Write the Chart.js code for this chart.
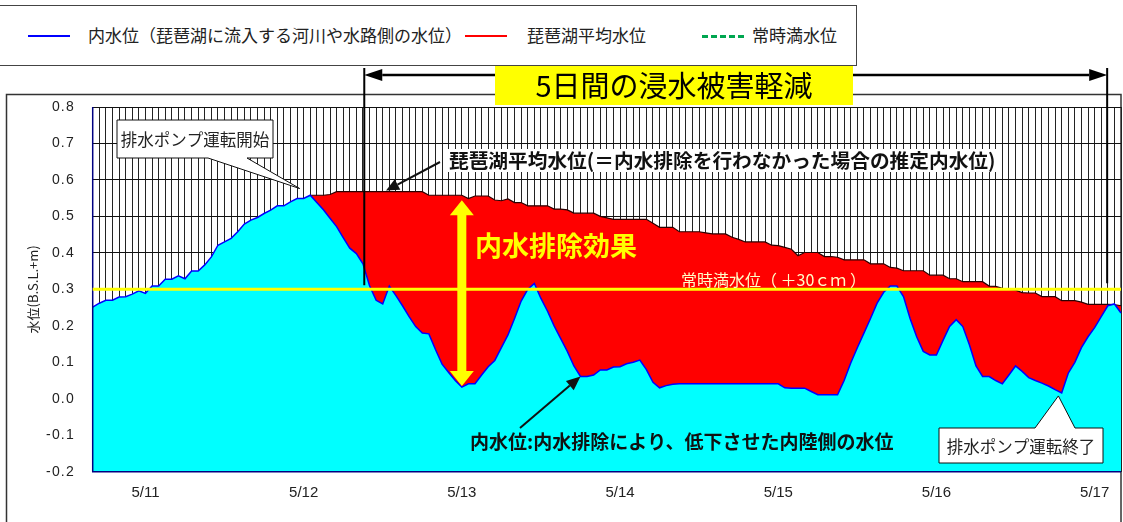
<!DOCTYPE html>
<html lang="ja">
<head>
<meta charset="utf-8">
<script src="https://cdn.jsdelivr.net/npm/chart.js@4.4.0/dist/chart.umd.min.js"></script>
<style>
  html, body { margin: 0; padding: 0; background: #fff; }
  #wrap { position: relative; width: 1123px; height: 522px; overflow: hidden; }
  #chart { position: absolute; left: 0; top: 0; }
  .legend { position: absolute; left: -1px; top: 5px; width: 856px; height: 59px;
            border: 1px solid #444; background: #fff;
            font: 17px 'Noto Sans CJK JP', sans-serif; color: #222; }
  .legend .line { position: absolute; top: 29px; width: 42px; height: 0; }
  .legend .txt { position: absolute; top: 17px; line-height: 24px; white-space: nowrap; }
</style>
</head>
<body>
<div id="wrap">
  <canvas id="chart" width="1123" height="522"></canvas>
  <div class="legend">
    <div class="line" style="left:28px; border-top:2px solid #0000ff;"></div>
    <div class="txt" style="left:88px;">内水位（琵琶湖に流入する河川や水路側の水位）</div>
    <div class="line" style="left:465px; border-top:2px solid #ff0000;"></div>
    <div class="txt" style="left:527px;">琵琶湖平均水位</div>
    <div class="line" style="left:702px; border-top:3px dashed #00a650;"></div>
    <div class="txt" style="left:752px;">常時満水位</div>
  </div>
</div>
<script>
// 時間軸: 5/10 16:00 から 1時間毎 157点
const startDay = 10;
const startHour = 16;
const hourCount = 157;
const hours = [];
for (let i = 0; i < hourCount; i++) {
    const h = startHour + i;
    hours.push(`5/${startDay + Math.floor(h / 24)} ${h % 24}:00`);
}

// 内水位 (B.S.L.+m)
const innerLevel = [
    0.251, 0.262, 0.270, 0.270, 0.279, 0.280, 0.287, 0.296, 0.289, 0.309,
    0.309, 0.328, 0.328, 0.337, 0.329, 0.350, 0.350, 0.367, 0.389, 0.421,
    0.430, 0.440, 0.458, 0.479, 0.490, 0.497, 0.508, 0.517, 0.529, 0.529,
    0.540, 0.549, 0.549, 0.558, 0.538, 0.518, 0.495, 0.472, 0.442, 0.413,
    0.398, 0.370, 0.310, 0.270, 0.260, 0.309, 0.283, 0.255, 0.225, 0.198,
    0.180, 0.178, 0.135, 0.095, 0.072, 0.050, 0.032, 0.041, 0.041, 0.065,
    0.088, 0.105, 0.140, 0.175, 0.220, 0.268, 0.300, 0.316, 0.275, 0.240,
    0.200, 0.165, 0.130, 0.090, 0.061, 0.061, 0.065, 0.079, 0.079, 0.087,
    0.088, 0.096, 0.100, 0.106, 0.080, 0.045, 0.030, 0.036, 0.040, 0.041,
    0.041, 0.041, 0.041, 0.041, 0.041, 0.041, 0.041, 0.041, 0.041, 0.041,
    0.041, 0.041, 0.041, 0.041, 0.041, 0.030, 0.029, 0.029, 0.029, 0.020,
    0.011, 0.011, 0.011, 0.011, 0.050, 0.098, 0.140, 0.180, 0.220, 0.262,
    0.292, 0.309, 0.309, 0.280, 0.220, 0.170, 0.130, 0.120, 0.120, 0.160,
    0.198, 0.217, 0.198, 0.148, 0.090, 0.061, 0.061, 0.050, 0.041, 0.065,
    0.090, 0.075, 0.058, 0.050, 0.043, 0.035, 0.025, 0.016, 0.070, 0.100,
    0.140, 0.170, 0.195, 0.225, 0.255, 0.260, 0.235
];

// 琵琶湖平均水位 (ポンプ運転開始以降)
const lakeLevel = [
    null, null, null, null, null, null, null, null, null, null,
    null, null, null, null, null, null, null, null, null, null,
    null, null, null, null, null, null, null, null, null, null,
    null, null, null, 0.558, 0.558, 0.558, 0.560, 0.568, 0.568, 0.568,
    0.568, 0.568, 0.568, 0.568, 0.568, 0.568, 0.568, 0.568, 0.568, 0.568,
    0.568, 0.558, 0.558, 0.558, 0.558, 0.558, 0.558, 0.549, 0.556, 0.556,
    0.556, 0.545, 0.543, 0.548, 0.538, 0.538, 0.529, 0.529, 0.529, 0.529,
    0.520, 0.520, 0.518, 0.509, 0.509, 0.509, 0.509, 0.500, 0.496, 0.492,
    0.492, 0.492, 0.492, 0.492, 0.492, 0.481, 0.470, 0.470, 0.470, 0.458,
    0.458, 0.458, 0.458, 0.455, 0.452, 0.452, 0.452, 0.443, 0.437, 0.430,
    0.430, 0.430, 0.430, 0.421, 0.420, 0.415, 0.410, 0.392, 0.401, 0.401,
    0.401, 0.390, 0.390, 0.388, 0.381, 0.381, 0.381, 0.381, 0.370, 0.370,
    0.370, 0.360, 0.358, 0.351, 0.351, 0.351, 0.351, 0.339, 0.339, 0.339,
    0.329, 0.329, 0.321, 0.321, 0.321, 0.321, 0.309, 0.308, 0.303, 0.300,
    0.298, 0.291, 0.290, 0.290, 0.280, 0.280, 0.280, 0.269, 0.269, 0.269,
    0.265, 0.259, 0.259, 0.259, 0.259, 0.258, 0.255
];

// 常時満水位
const normalLevel = 0.3;

// Y軸
const yMin = -0.2;
const yMax = 0.8;
const yStep = 0.1;

const JP = "'Noto Sans CJK JP', sans-serif";
const NUM = "'Liberation Sans', Arial, sans-serif";

/**
 * 矢印 (塗り三角の矢じり)
 */
function drawArrow(ctx, x1, y1, x2, y2, headLen, headHalf, width, color) {
    const ang = Math.atan2(y2 - y1, x2 - x1);
    const bx = x2 - headLen * Math.cos(ang);
    const by = y2 - headLen * Math.sin(ang);
    ctx.save();
    ctx.strokeStyle = color;
    ctx.fillStyle = color;
    ctx.lineWidth = width;
    ctx.beginPath();
    ctx.moveTo(x1, y1);
    ctx.lineTo(bx, by);
    ctx.stroke();
    ctx.beginPath();
    ctx.moveTo(x2, y2);
    ctx.lineTo(bx + headHalf * Math.sin(ang), by - headHalf * Math.cos(ang));
    ctx.lineTo(bx - headHalf * Math.sin(ang), by + headHalf * Math.cos(ang));
    ctx.closePath();
    ctx.fill();
    ctx.restore();
}

/**
 * 吹き出し (四角 + くさび)
 */
function drawCallout(ctx, box, wedge, tip, text) {
    const {l, t, r, b} = box;
    const onBottom = tip.y > b;
    ctx.save();
    ctx.fillStyle = '#fff';
    ctx.strokeStyle = '#111';
    ctx.lineWidth = 1;
    ctx.beginPath();
    ctx.moveTo(l, t);
    if (!onBottom) {
        ctx.lineTo(wedge[0], t); ctx.lineTo(tip.x, tip.y); ctx.lineTo(wedge[1], t);
    }
    ctx.lineTo(r, t);
    ctx.lineTo(r, b);
    if (onBottom) {
        ctx.lineTo(wedge[1], b); ctx.lineTo(tip.x, tip.y); ctx.lineTo(wedge[0], b);
    }
    ctx.lineTo(l, b);
    ctx.closePath();
    ctx.fill();
    ctx.stroke();
    ctx.fillStyle = '#222';
    ctx.font = `16.5px ${JP}`;
    ctx.textAlign = 'center';
    ctx.textBaseline = 'middle';
    ctx.fillText(text, (l + r) / 2, (t + b) / 2 + 1);
    ctx.restore();
}

const annotations = {
    id: 'annotations',
    beforeDraw(chart) {
        const ctx = chart.ctx;
        ctx.save();
        ctx.fillStyle = '#fff';
        ctx.fillRect(0, 0, chart.width, chart.height);
        // グラフ枠
        ctx.strokeStyle = '#333';
        ctx.lineWidth = 1.5;
        ctx.strokeRect(6.5, 94.5, 1114.5, 460);
        ctx.restore();
    },
    afterDatasetsDraw(chart) {
        const {ctx, chartArea: a, scales: {x, y}} = chart;
        ctx.save();

        // 軸線
        ctx.strokeStyle = '#000080';
        ctx.lineWidth = 1.5;
        ctx.beginPath();
        ctx.moveTo(a.left, a.top);
        ctx.lineTo(a.left, a.bottom);
        ctx.lineTo(a.right, a.bottom);
        ctx.stroke();

        // 常時満水位ライン
        const yN = y.getPixelForValue(normalLevel);
        ctx.strokeStyle = '#ffff00';
        ctx.lineWidth = 3;
        ctx.beginPath();
        ctx.moveTo(a.left, yN);
        ctx.lineTo(a.right, yN);
        ctx.stroke();

        ctx.fillStyle = '#ffffc8';
        ctx.font = `16px ${JP}`;
        ctx.textBaseline = 'middle';
        ctx.fillText('常時満水位（ ＋30ｃｍ ）', 681, yN - 9);

        // 5日間の期間線
        const xs = x.getPixelForValue(41.2);
        const xe = x.getPixelForValue(153.9);
        ctx.strokeStyle = '#000';
        ctx.lineWidth = 2;
        ctx.beginPath();
        ctx.moveTo(xs, 68); ctx.lineTo(xs, yN - 4);
        ctx.moveTo(xe, 68); ctx.lineTo(xe, yN - 6);
        ctx.stroke();

        // 内水排除効果 (黄色の両矢印)
        const xa = x.getPixelForValue(56);
        const ya = y.getPixelForValue(lakeLevel[56]) + 5;
        const yb = y.getPixelForValue(innerLevel[56]) - 1;
        ctx.fillStyle = '#ffff00';
        ctx.fillRect(xa - 4.5, ya + 14, 9, yb - ya - 28);
        ctx.beginPath();
        ctx.moveTo(xa, ya); ctx.lineTo(xa + 12, ya + 15); ctx.lineTo(xa - 12, ya + 15);
        ctx.closePath(); ctx.fill();
        ctx.beginPath();
        ctx.moveTo(xa, yb); ctx.lineTo(xa + 12, yb - 15); ctx.lineTo(xa - 12, yb - 15);
        ctx.closePath(); ctx.fill();

        ctx.font = `bold 27px ${JP}`;
        ctx.textAlign = 'left';
        ctx.fillText('内水排除効果', 475, 246);

        // 琵琶湖平均水位の説明
        const cap1 = '琵琶湖平均水位(＝内水排除を行わなかった場合の推定内水位)';
        ctx.font = `bold 19.7px ${JP}`;
        const w1 = ctx.measureText(cap1).width;
        ctx.fillStyle = '#fff';
        ctx.fillRect(445, 149, w1 + 8, 23);
        ctx.fillStyle = '#111';
        ctx.fillText(cap1, 449, 161);
        drawArrow(ctx, 440, 162, x.getPixelForValue(44.5), y.getPixelForValue(lakeLevel[44]) - 1, 13, 6, 2, '#111');

        // 内水位の説明
        ctx.font = `bold 19px ${JP}`;
        ctx.fillStyle = '#111';
        ctx.fillText('内水位:内水排除により、低下させた内陸側の水位', 470, 442);
        drawArrow(ctx, 520, 428, x.getPixelForValue(74), y.getPixelForValue(innerLevel[74]), 14, 6, 2, '#111');

        // 吹き出し
        drawCallout(ctx, {l: 117, t: 120, r: 273, b: 158}, [208, 247],
            {x: x.getPixelForValue(31.4), y: y.getPixelForValue(innerLevel[31]) - 10}, '排水ポンプ運転開始');
        drawCallout(ctx, {l: 939, t: 428, r: 1103, b: 463}, [1035, 1075],
            {x: x.getPixelForValue(146.5), y: y.getPixelForValue(innerLevel[147]) + 3}, '排水ポンプ運転終了');

        ctx.restore();
    },
    afterDraw(chart) {
        const {ctx, scales: {x}} = chart;
        ctx.save();
        const xs = x.getPixelForValue(41.2);
        const xe = x.getPixelForValue(153.9);
        // 期間の両矢印
        drawArrow(ctx, (xs + xe) / 2, 75, xs, 75, 18, 6, 2.5, '#000');
        drawArrow(ctx, (xs + xe) / 2, 75, xe, 75, 18, 6, 2.5, '#000');
        // タイトル帯
        ctx.fillStyle = '#ffff00';
        ctx.fillRect(495, 66, 358, 39);
        ctx.fillStyle = '#000';
        ctx.font = `29px ${JP}`;
        ctx.textAlign = 'center';
        ctx.textBaseline = 'middle';
        ctx.fillText('5日間の浸水被害軽減', 674, 86);
        ctx.restore();
    }
};

new Chart(document.getElementById('chart'), {
    type: 'line',
    data: {
        labels: hours,
        datasets: [{
            label: '内水位（琵琶湖に流入する河川や水路側の水位）',
            data: innerLevel,
            borderColor: '#0000ff',
            borderWidth: 1.5,
            backgroundColor: '#00ffff',
            fill: 'start',
            pointRadius: 0,
            tension: 0
        }, {
            label: '琵琶湖平均水位',
            data: lakeLevel,
            borderColor: '#2a0000',
            borderWidth: 1.2,
            backgroundColor: '#ff0000',
            fill: 'start',
            pointRadius: 0,
            tension: 0
        }]
    },
    options: {
        responsive: false,
        animation: false,
        layout: { padding: { top: 107, right: 2, left: 0, bottom: 0 } },
        plugins: {
            legend: { display: false },
            tooltip: { enabled: false }
        },
        scales: {
            x: {
                type: 'category',
                offset: false,
                grid: {
                    color: '#222', lineWidth: 1, offset: false,
                    drawTicks: true, tickLength: 12, tickColor: 'rgba(0,0,0,0)'
                },
                border: { display: false },
                ticks: {
                    autoSkip: false,
                    maxRotation: 0,
                    padding: 0,
                    color: '#222',
                    font: { family: NUM, size: 15 },
                    callback(value) {
                        const s = this.getLabelForValue(value);
                        return s.endsWith(' 0:00') ? s.split(' ')[0] : '';
                    }
                },
                afterFit(scale) { scale.height = 50.3; }
            },
            y: {
                min: yMin,
                max: yMax,
                grid: { color: '#111', lineWidth: 1, drawTicks: false },
                border: { display: false },
                ticks: {
                    stepSize: yStep,
                    padding: 19,
                    color: '#222',
                    font: { family: NUM, size: 14 },
                    callback(v) {
                        return (Math.round(v * 10) / 10).toFixed(1).split('').join('\u200A');
                    }
                },
                title: {
                    display: true,
                    text: '水位(B.S.L.+m)',
                    color: '#222',
                    font: { family: JP, size: 13 },
                    padding: { top: 25, bottom: 0 }
                },
                afterFit(scale) { scale.width = 92.7; }
            }
        }
    },
    plugins: [annotations]
});
</script>
</body>
</html>
